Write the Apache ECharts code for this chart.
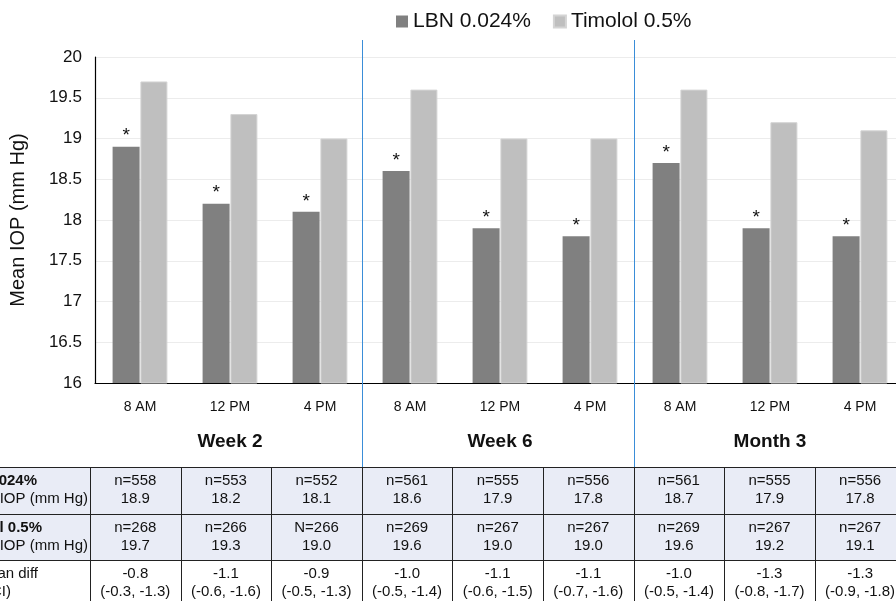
<!DOCTYPE html>
<html>
<head>
<meta charset="utf-8">
<script src="https://cdn.jsdelivr.net/npm/echarts@6/dist/echarts.min.js"></script>
<style>
html,body{margin:0;padding:0;background:#fff;overflow:hidden;width:896px;height:601px;}
#chart{width:906px;height:601px;}
</style>
</head>
<body>
<div id="chart"></div>
<script>
// ---- data ----
const timepoints = ['8 AM','12 PM','4 PM','8 AM','12 PM','4 PM','8 AM','12 PM','4 PM'];
const visits = ['Week 2','Week 6','Month 3'];
const lbnMean = [18.9,18.2,18.1,18.6,17.9,17.8,18.7,17.9,17.8];
const timMean = [19.7,19.3,19.0,19.6,19.0,19.0,19.6,19.2,19.1];
const lbnN = ['n=558','n=553','n=552','n=561','n=555','n=556','n=561','n=555','n=556'];
const timN = ['n=268','n=266','N=266','n=269','n=267','n=267','n=269','n=267','n=267'];
const meanDiff = ['-0.8','-1.1','-0.9','-1.0','-1.1','-1.1','-1.0','-1.3','-1.3'];
const diffCI = ['(-0.3, -1.3)','(-0.6, -1.6)','(-0.5, -1.3)','(-0.5, -1.4)','(-0.6, -1.5)','(-0.7, -1.6)','(-0.5, -1.4)','(-0.8, -1.7)','(-0.9, -1.8)'];
const seriesNames = ['LBN 0.024%','Timolol 0.5%'];
const rowLabels = [['LBN 0.024%','Mean IOP (mm Hg)'],['Timolol 0.5%','Mean IOP (mm Hg)'],['Mean diff','(95% CI)']];

const chart = echarts.init(document.getElementById('chart'));
const FONT = 'Liberation Sans, Arial, Helvetica, sans-serif';

const option = {
  animation: false,
  textStyle: {fontFamily: FONT},
  legend: {
    top: 6, left: 391, itemWidth: 12, itemHeight: 12, itemGap: 22, icon: 'rect',
    textStyle: {fontSize: 21, color: '#111', fontFamily: FONT},
    data: seriesNames
  },
  grid: {left: 95, top: 57, right: 1, bottom: 218, containLabel: false},
  xAxis: [{
    type: 'category', data: timepoints, position: 'bottom',
    axisLine: {lineStyle: {color: '#000', width: 1.2}},
    axisTick: {show: false},
    axisLabel: {fontSize: 14, color: '#111', margin: 17}
  }, {
    type: 'category', data: visits, position: 'bottom', offset: 40,
    axisLine: {show: false}, axisTick: {show: false},
    axisLabel: {fontSize: 19, fontWeight: 'bold', color: '#111', margin: 9}
  }],
  yAxis: {
    type: 'value', min: 16, max: 20, interval: 0.5,
    name: 'Mean IOP (mm Hg)', nameLocation: 'middle', nameGap: 67,
    nameTextStyle: {fontSize: 20, color: '#111'},
    axisLine: {show: true, lineStyle: {color: '#000', width: 1.2}},
    axisTick: {show: false},
    axisLabel: {fontSize: 17, color: '#111', margin: 13},
    splitLine: {lineStyle: {color: '#ececec'}}
  },
  series: [{
    name: seriesNames[0], type: 'bar', data: lbnMean, barWidth: 27, barGap: '3%',
    itemStyle: {color: '#808080'},
    label: {show: true, position: 'top', formatter: '*', fontSize: 19, color: '#111', distance: 1}
  }, {
    name: seriesNames[1], type: 'bar', data: timMean, barWidth: 27,
    itemStyle: {color: '#bfbfbf', borderColor: '#d4d4d4', borderWidth: 1}
  }]
};
chart.setOption(option);

// ---- dividers and table ----
const g = [];
const p2 = chart.convertToPixel({xAxisIndex: 0}, 2);
const p3 = chart.convertToPixel({xAxisIndex: 0}, 3);
const p5 = chart.convertToPixel({xAxisIndex: 0}, 5);
const p6 = chart.convertToPixel({xAxisIndex: 0}, 6);
[(p2 + p3) / 2 - 3, (p5 + p6) / 2 - 1].forEach(x => {
  const xx = Math.round(x) + 0.5;
  g.push({type: 'line', shape: {x1: xx, y1: 40, x2: xx, y2: 467}, style: {stroke: '#3a8dd8', lineWidth: 1}, z: 10});
});

const tableLeft = 90, colW = 90.6, rowTop = [467, 514, 560], rowH = [47, 46, 45];
const bg = ['#e9ecf6', '#e9ecf6', '#ffffff'];
for (let r = 0; r < 3; r++) {
  g.push({type: 'rect', shape: {x: -10, y: rowTop[r] + 0.5, width: 930, height: rowH[r]}, style: {fill: bg[r], stroke: '#222', lineWidth: 1}, z: 1});
}
for (let c = 0; c <= 9; c++) {
  const x = Math.round(tableLeft + c * colW) + 0.5;
  g.push({type: 'line', shape: {x1: x, y1: 467, x2: x, y2: 605}, style: {stroke: '#222', lineWidth: 1}, z: 2});
}
const cellRows = [[lbnN, lbnMean.map(v => v.toFixed(1))], [timN, timMean.map(v => v.toFixed(1))], [meanDiff, diffCI]];
for (let r = 0; r < 3; r++) {
  for (let c = 0; c < 9; c++) {
    const cx = tableLeft + (c + 0.5) * colW;
    g.push({type: 'text', x: cx, y: rowTop[r] + 14, style: {text: String(cellRows[r][0][c]), fill: '#111', font: '15px ' + FONT, textAlign: 'center', textVerticalAlign: 'middle'}, z: 3});
    g.push({type: 'text', x: cx, y: rowTop[r] + 32, style: {text: String(cellRows[r][1][c]), fill: '#111', font: '15px ' + FONT, textAlign: 'center', textVerticalAlign: 'middle'}, z: 3});
  }
}
// left header column (cut off by the page edge)
const rightEdges = [[37, 88], [42, 88], [38, 11]];
for (let r = 0; r < 3; r++) {
  g.push({type: 'text', x: rightEdges[r][0], y: rowTop[r] + 14, style: {text: rowLabels[r][0], fill: '#111', font: (r < 2 ? 'bold ' : '') + '15px ' + FONT, textAlign: 'right', textVerticalAlign: 'middle'}, z: 3});
  g.push({type: 'text', x: rightEdges[r][1], y: rowTop[r] + 32, style: {text: rowLabels[r][1], fill: '#111', font: '15px ' + FONT, textAlign: 'right', textVerticalAlign: 'middle'}, z: 3});
}
chart.setOption({graphic: g});
</script>
</body>
</html>
